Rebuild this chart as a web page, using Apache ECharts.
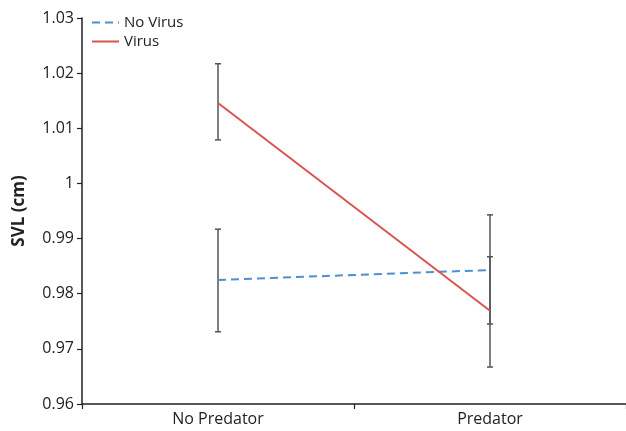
<!DOCTYPE html>
<html><head><meta charset="utf-8">
<script src="https://cdn.jsdelivr.net/npm/echarts@6/dist/echarts.min.js"></script>
<style>html,body{margin:0;padding:0;background:#fff}#c{width:626px;height:431px}</style>
</head><body><div id="c"></div>
<script>
var categories = ['No Predator', 'Predator'];
var noVirusMean = [0.9825, 0.9843];
var noVirusLow  = [0.9731, 0.9745];
var noVirusHigh = [0.9917, 0.9943];
var virusMean = [1.0146, 0.9769];
var virusLow  = [1.0079, 0.9667];
var virusHigh = [1.0217, 0.9867];

var chart = echarts.init(document.getElementById('c'));
function errSeries(lo, hi){
  return {
    type: 'custom', z: 1, silent: true,
    data: categories.map(function(c,i){return [i, lo[i], hi[i]];}),
    renderItem: function(params, api){
      var x = api.value(0);
      var p1 = api.coord([x, api.value(1)]);
      var p2 = api.coord([x, api.value(2)]);
      var w = 3;
      var st = {stroke:'#555', lineWidth:1.5};
      return {type:'group', children:[
        {type:'line', shape:{x1:p1[0],y1:p1[1],x2:p2[0],y2:p2[1]}, style:st},
        {type:'line', shape:{x1:p1[0]-w,y1:p1[1],x2:p1[0]+w,y2:p1[1]}, style:st},
        {type:'line', shape:{x1:p2[0]-w,y1:p2[1],x2:p2[0]+w,y2:p2[1]}, style:st}
      ]};
    }
  };
}
chart.setOption({
  animation: false,
  textStyle: {fontFamily: 'Open Sans'},
  grid: {left: 82, right: 0, top: 18, bottom: 27},
  legend: {
    left: 86, top: 10, orient: 'vertical', itemGap: 4, itemWidth: 27, itemHeight: 14,
    data: ['No Virus', 'Virus'],
    itemStyle: {opacity: 0},
    textStyle: {fontSize: 15, color: '#222', fontFamily: 'Open Sans'}
  },
  xAxis: {
    type: 'category', data: categories, boundaryGap: true,
    axisLine: {lineStyle: {color: '#222', width: 1.5}},
    axisTick: {show: true, length: 5, lineStyle: {color: '#222', width: 1.2}},
    axisLabel: {fontSize: 16, color: '#222', margin: 7}
  },
  yAxis: {
    type: 'value', min: 0.96, max: 1.03, interval: 0.01,
    name: 'SVL (cm)', nameLocation: 'middle', nameGap: 54, nameRotate: 90,
    nameTextStyle: {fontSize: 17, fontWeight: 'bold', color: '#222'},
    splitLine: {show: false},
    axisLine: {show: true, lineStyle: {color: '#222', width: 1.5}},
    axisTick: {show: true, length: 5, lineStyle: {color: '#222', width: 1.2}},
    axisLabel: {fontSize: 16, color: '#222', margin: 8,
      formatter: function(v){ return String(parseFloat(v.toFixed(2))); }}
  },
  series: [
    errSeries(noVirusLow, noVirusHigh),
    errSeries(virusLow, virusHigh),
    {name: 'No Virus', type: 'line', z: 3, data: noVirusMean, symbol: 'none',
     lineStyle: {color: '#4F8ED3', width: 2, type: [8, 5]}, itemStyle: {color: '#4F8ED3'}},
    {name: 'Virus', type: 'line', z: 3, data: virusMean, symbol: 'none',
     lineStyle: {color: '#D9534F', width: 2}, itemStyle: {color: '#D9534F'}}
  ]
});
</script></body></html>
